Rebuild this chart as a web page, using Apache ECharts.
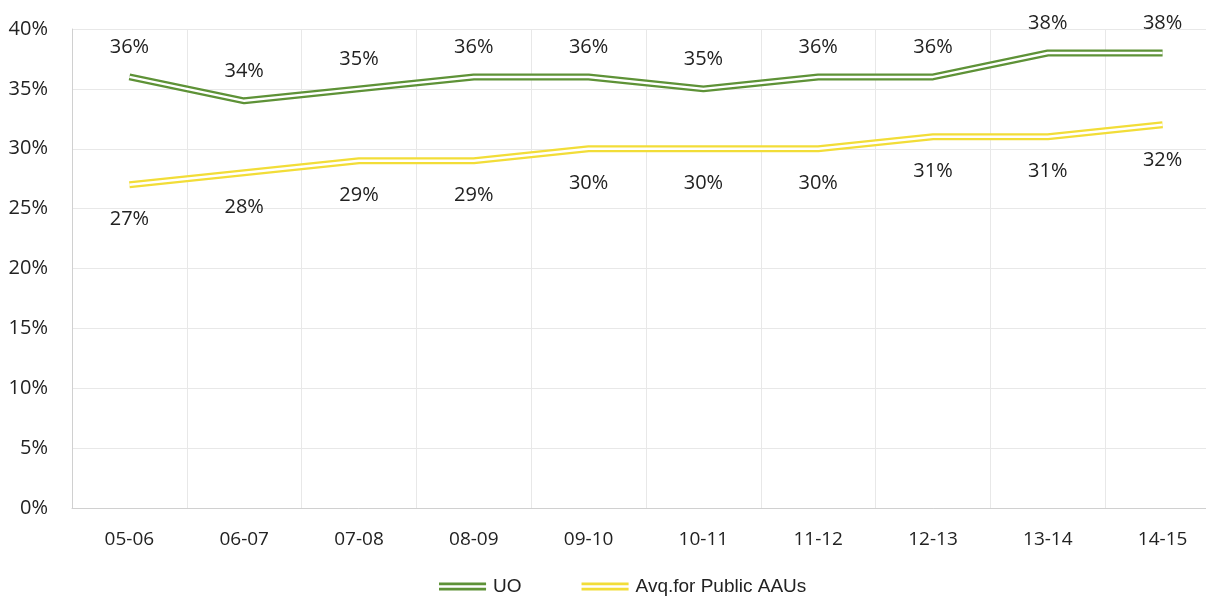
<!DOCTYPE html>
<html>
<head>
<meta charset="utf-8">
<script src="https://cdn.jsdelivr.net/npm/echarts@6/dist/echarts.min.js"></script>
<style>
html, body { margin: 0; padding: 0; background: #fff; overflow: hidden; }
#chart { width: 1220px; height: 603px; }
</style>
</head>
<body>
<div id="chart"></div>
<script>
// 数据
var years = ['05-06', '06-07', '07-08', '08-09', '09-10', '10-11', '11-12', '12-13', '13-14', '14-15'];
var uo = [36, 34, 35, 36, 36, 35, 36, 36, 38, 38];
var avgPublic = [27, 28, 29, 29, 30, 30, 30, 31, 31, 32];

var green = '#5e9237';
var yellow = '#f2dd38';
var font = 'Open Sans';
// 双线图例图标
var dbl = 'path://M0,0H50V3H0Z M0,5.5H50V8.5H0Z';

var myChart = echarts.init(document.getElementById('chart'));
var option = {
	animation: false,
	textStyle: { fontFamily: font },
	grid: { left: 72, right: 0, top: 29, bottom: 95, containLabel: false },
	legend: {
		bottom: 2,
		left: 434,
		itemWidth: 51,
		itemHeight: 8,
		itemGap: 60,
		textStyle: { fontSize: 19, color: '#222', fontFamily: 'Liberation Sans' },
		data: [
			{ name: 'UO', icon: dbl, itemStyle: { color: green } },
			{ name: 'Avq.for Public AAUs', icon: dbl, itemStyle: { color: yellow } }
		]
	},
	xAxis: {
		type: 'category',
		data: years,
		boundaryGap: true,
		axisLine: { lineStyle: { color: '#d0d0d0' } },
		axisTick: { show: false },
		axisLabel: { fontSize: 19, color: '#222', margin: 22 },
		splitLine: { show: true, lineStyle: { color: '#e8e8e8' } }
	},
	yAxis: {
		type: 'value',
		min: 0,
		max: 40,
		interval: 5,
		axisLine: { show: true, lineStyle: { color: '#d0d0d0' } },
		axisTick: { show: false },
		axisLabel: { fontSize: 20, color: '#222', margin: 24, formatter: '{value}%' },
		splitLine: { lineStyle: { color: '#e8e8e8' } }
	},
	series: [{
		name: 'UO',
		type: 'line',
		data: uo,
		symbol: 'circle',
		symbolSize: 0,
		z: 3,
		lineStyle: { color: green, width: 7 },
		itemStyle: { color: green },
		label: { show: true, position: 'top', distance: 20, fontSize: 20, color: '#222', formatter: '{c}%' }
	}, {
		name: 'UO-inner',
		type: 'line',
		data: uo,
		symbol: 'none',
		z: 4,
		silent: true,
		lineStyle: { color: '#fff', width: 2.5 }
	}, {
		name: 'Avq.for Public AAUs',
		type: 'line',
		data: avgPublic,
		symbol: 'circle',
		symbolSize: 0,
		z: 3,
		lineStyle: { color: yellow, width: 7 },
		itemStyle: { color: yellow },
		label: { show: true, position: 'bottom', distance: 25, fontSize: 20, color: '#222', formatter: '{c}%' }
	}, {
		name: 'Avg-inner',
		type: 'line',
		data: avgPublic,
		symbol: 'none',
		z: 4,
		silent: true,
		lineStyle: { color: '#fff', width: 2.5 }
	}]
};
myChart.setOption(option);
</script>
</body>
</html>
